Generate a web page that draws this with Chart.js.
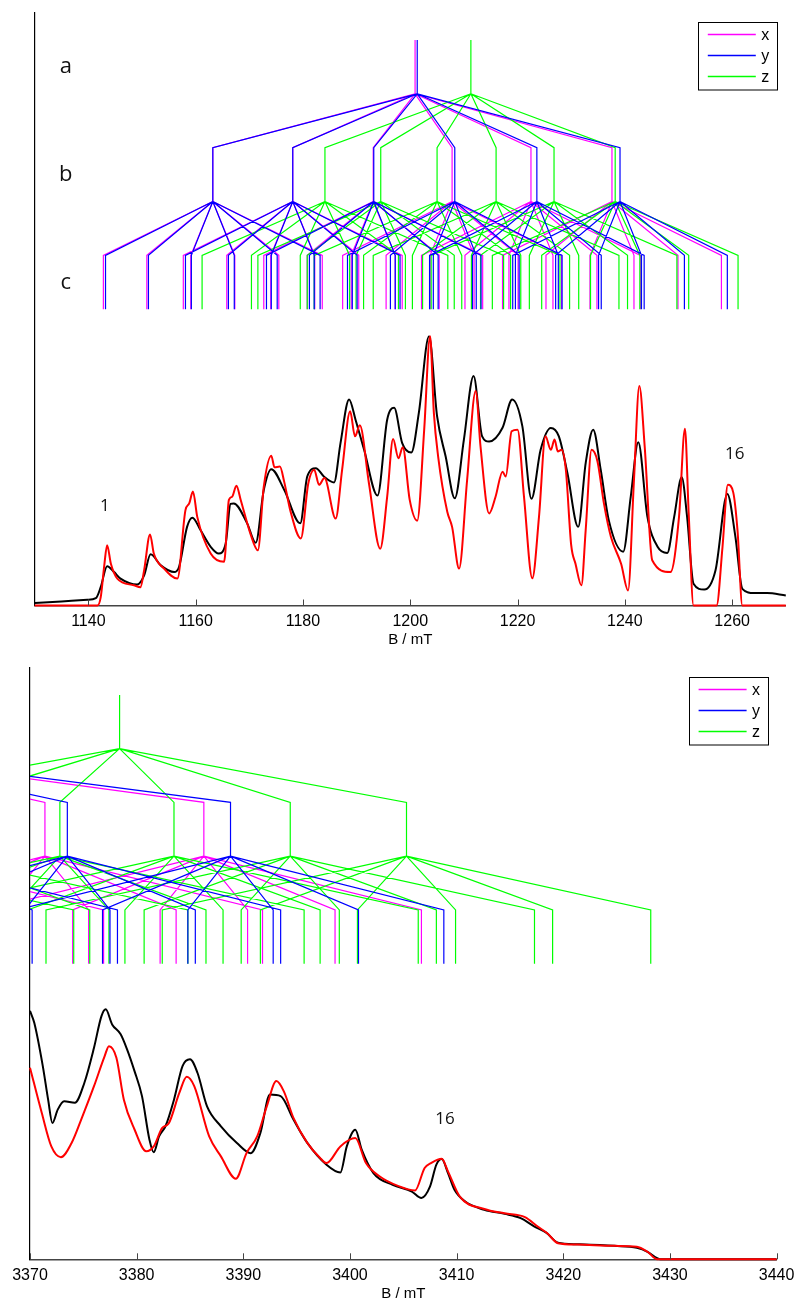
<!DOCTYPE html>
<html>
<head>
<meta charset="utf-8">
<title>B / mT</title>
<script src="https://cdn.jsdelivr.net/npm/chart.js@4.4.1/dist/chart.umd.min.js"></script>
<style>
  html, body { margin: 0; padding: 0; background: #fff; }
  .panel { position: relative; width: 801px; height: 652px; }
</style>
</head>
<body>
<div class="panel"><canvas id="lowField"></canvas></div>
<div class="panel"><canvas id="highField"></canvas></div>
<script>
// stick diagram heights: a (top of root), a/b, b, b/c, c, bottom of c
const treeLevels = [2.1, 1.9, 1.7, 1.5, 1.3, 1.1];

// second splitting (mT) around every first-level line
const splitX = [-20.4, -12.3, -4.1, 4.1, 12.3, 20.4];
const splitY = [-20.0, -12.0, -4.0, 4.0, 12.0, 20.0];
const splitZ = [-22.9, -13.7, -4.6, 4.6, 13.7, 22.9];

// ---- low field panel, 1130 - 1270 mT ----
const lowTicks = [1140, 1160, 1180, 1200, 1220, 1240, 1260];
const lowRoots = [1200.9, 1201.3, 1211.3]; // x, y, z
const lowLinesX = [1163.2, 1178.1, 1193.1, 1207.8, 1222.5, 1237.6];
const lowLinesY = [1163.2, 1178.1, 1193.2, 1208.3, 1223.6, 1239.1];
const lowLinesZ = [1184.1, 1194.5, 1205.0, 1216.0, 1226.8, 1238.2];

const lowExp = [
  [1130, 0.009], [1135, 0.015], [1139.8, 0.021], [1141.4, 0.027], [1142.3, 0.068],
  [1143.5, 0.146], [1144.8, 0.124], [1146.0, 0.100], [1149.1, 0.078], [1150.4, 0.112],
  [1151.6, 0.190], [1153.5, 0.149], [1156.0, 0.124], [1156.9, 0.143], [1158.4, 0.292],
  [1159.4, 0.326], [1160.9, 0.280], [1162.8, 0.218], [1164.3, 0.193], [1165.6, 0.230],
  [1166.5, 0.377], [1167.1, 0.379], [1169.6, 0.305], [1171.2, 0.233], [1172.7, 0.429],
  [1174.1, 0.506], [1176.5, 0.430], [1179.5, 0.305], [1180.8, 0.479], [1182.4, 0.510],
  [1183.9, 0.479], [1185.8, 0.457], [1187.0, 0.603], [1188.6, 0.765], [1189.8, 0.690],
  [1191.4, 0.578], [1193.9, 0.408], [1195.7, 0.690], [1197.0, 0.734], [1198.5, 0.603],
  [1200.2, 0.568], [1201.6, 0.715], [1203.5, 1.000], [1205.0, 0.703], [1206.6, 0.553],
  [1208.3, 0.398], [1210.0, 0.616], [1211.8, 0.852], [1213.4, 0.628], [1214.7, 0.609],
  [1217.2, 0.660], [1219.0, 0.765], [1220.9, 0.665], [1222.6, 0.396], [1224.3, 0.578],
  [1226.2, 0.659], [1227.7, 0.628], [1229.3, 0.491], [1231.3, 0.292], [1232.7, 0.529],
  [1234.1, 0.653], [1235.5, 0.504], [1237.0, 0.317], [1239.7, 0.200], [1241.1, 0.404],
  [1242.5, 0.606], [1244.2, 0.330], [1246.1, 0.218], [1247.9, 0.195], [1249.2, 0.330],
  [1250.6, 0.476], [1251.6, 0.330], [1252.8, 0.081], [1254.8, 0.059], [1256.9, 0.131],
  [1259.1, 0.414], [1260.6, 0.256], [1261.9, 0.062], [1264.1, 0.046], [1266.5, 0.046],
  [1270, 0.037]
];

const lowSim = [
  [1130, 0], [1141.7, 0], [1142.3, 0.030], [1143.0, 0.155], [1143.5, 0.224],
  [1144.2, 0.155], [1145.4, 0.100], [1148.5, 0.075], [1149.7, 0.068], [1150.4, 0.131],
  [1151.5, 0.264], [1152.2, 0.193], [1154.1, 0.137], [1156.6, 0.100], [1158.1, 0.354],
  [1158.8, 0.379], [1159.5, 0.423], [1160.3, 0.329], [1162.8, 0.193], [1165.3, 0.162],
  [1166.2, 0.392], [1166.8, 0.404], [1167.6, 0.445], [1168.4, 0.392], [1170.2, 0.267],
  [1171.6, 0.205], [1172.7, 0.441], [1174.1, 0.556], [1174.7, 0.513], [1175.7, 0.516],
  [1176.5, 0.460], [1177.7, 0.348], [1179.6, 0.249], [1181.0, 0.454], [1182.1, 0.504],
  [1183.0, 0.448], [1184.0, 0.473], [1186.1, 0.323], [1187.3, 0.504], [1188.8, 0.721],
  [1189.7, 0.628], [1190.6, 0.669], [1192.3, 0.454], [1194.4, 0.211], [1195.7, 0.404],
  [1196.8, 0.618], [1197.8, 0.547], [1198.6, 0.588], [1199.9, 0.392], [1201.3, 0.315],
  [1202.6, 0.653], [1203.7, 1.000], [1204.4, 0.715], [1205.2, 0.553], [1206.9, 0.348],
  [1207.8, 0.292], [1209.1, 0.137], [1210.6, 0.466], [1212.2, 0.796], [1213.1, 0.590],
  [1214.7, 0.342], [1215.9, 0.404], [1217.2, 0.497], [1217.8, 0.479], [1218.9, 0.647],
  [1220.0, 0.653], [1221.2, 0.404], [1222.75, 0.101], [1224.0, 0.330], [1225.2, 0.628],
  [1226.2, 0.578], [1226.9, 0.616], [1227.5, 0.572], [1228.2, 0.578], [1229.0, 0.504],
  [1230.0, 0.224], [1230.8, 0.155], [1231.9, 0.075], [1232.7, 0.280], [1233.8, 0.578],
  [1234.9, 0.535], [1236.1, 0.379], [1237.4, 0.255], [1239.3, 0.155], [1240.6, 0.056],
  [1241.7, 0.466], [1242.7, 0.815], [1243.7, 0.590], [1245.1, 0.168], [1248.5, 0.124],
  [1250.1, 0.330], [1251.2, 0.656], [1251.9, 0.342], [1252.8, 0], [1257.1, 0],
  [1258.2, 0.217], [1259.2, 0.448], [1260.2, 0.420], [1261.0, 0.279], [1261.9, 0],
  [1270, 0]
];

// ---- high field panel, 3370 - 3440 mT ----
const highTicks = [3370, 3380, 3390, 3400, 3410, 3420, 3430, 3440];
const highRoots = [3348.9, 3350.0, 3378.4]; // x, y, z
const highLinesX = [3311.8, 3326.7, 3341.6, 3356.5, 3371.4, 3386.3];
const highLinesY = [3312.3, 3327.6, 3342.9, 3358.2, 3373.5, 3388.8];
const highLinesZ = [3351.2, 3361.9, 3372.8, 3383.5, 3394.4, 3405.3];

const highExp = [
  [3370.0, 0.924], [3370.4, 0.880], [3371.2, 0.719], [3371.7, 0.594], [3372.1, 0.507],
  [3372.6, 0.557], [3373.2, 0.588], [3374.2, 0.582], [3375.1, 0.657], [3376.0, 0.787],
  [3376.7, 0.905], [3377.1, 0.930], [3377.7, 0.874], [3378.5, 0.837], [3379.1, 0.781],
  [3379.8, 0.700], [3380.5, 0.607], [3381.2, 0.445], [3381.6, 0.398], [3382.1, 0.457],
  [3382.7, 0.495], [3383.5, 0.594], [3384.3, 0.719], [3385.0, 0.744], [3385.7, 0.694],
  [3386.6, 0.569], [3387.9, 0.495], [3389.4, 0.433], [3390.7, 0.395], [3391.6, 0.470],
  [3392.5, 0.613], [3393.5, 0.607], [3394.7, 0.520], [3396.0, 0.433], [3397.8, 0.352],
  [3399.1, 0.323], [3399.7, 0.420], [3400.5, 0.482], [3401.1, 0.408], [3402.2, 0.321],
  [3404.0, 0.277], [3405.8, 0.252], [3406.7, 0.228], [3407.5, 0.270], [3408.1, 0.352],
  [3408.6, 0.373], [3409.2, 0.320], [3409.8, 0.259], [3410.8, 0.215], [3412.6, 0.184],
  [3414.5, 0.169], [3416.0, 0.153], [3417.3, 0.122], [3418.4, 0.099], [3419.5, 0.062],
  [3421.3, 0.056], [3424.8, 0.050], [3426.9, 0.043], [3427.9, 0.028], [3428.8, 0.004],
  [3429.1, 0], [3440, 0]
];

const highSim = [
  [3370.0, 0.713], [3371.1, 0.545], [3372.0, 0.420], [3372.9, 0.380], [3373.9, 0.433],
  [3374.8, 0.520], [3376.0, 0.644], [3377.0, 0.756], [3377.4, 0.793], [3378.1, 0.750],
  [3378.8, 0.594], [3379.8, 0.483], [3380.9, 0.402], [3381.6, 0.420], [3382.4, 0.489],
  [3383.0, 0.505], [3384.0, 0.619], [3384.7, 0.679], [3385.4, 0.644], [3386.8, 0.457],
  [3387.9, 0.383], [3389.3, 0.300], [3390.3, 0.395], [3391.3, 0.457], [3392.2, 0.569],
  [3393.1, 0.663], [3393.8, 0.625], [3394.7, 0.526], [3396.0, 0.433], [3397.2, 0.377],
  [3397.8, 0.358], [3399.1, 0.420], [3400.5, 0.451], [3401.5, 0.358], [3402.8, 0.308],
  [3404.5, 0.273], [3406.1, 0.256], [3407.0, 0.340], [3407.6, 0.358], [3408.6, 0.374],
  [3409.2, 0.326], [3410.3, 0.233], [3412.6, 0.187], [3414.5, 0.171], [3416.4, 0.157],
  [3417.6, 0.122], [3418.5, 0.097], [3419.5, 0.060], [3421.3, 0.055], [3424.8, 0.050],
  [3426.9, 0.047], [3427.9, 0.028], [3428.8, 0], [3440, 0]
];

const stickColors = { x: '#ff00ff', y: '#0000ff', z: '#00ff00' };
const textFont = '"Open Sans", "Noto Sans", sans-serif';
const axisFont = '"Liberation Sans", Arial, Helvetica, sans-serif';

// one polyline per branch, broken by null points
function treePoints(root, lines, split) {
  const [a0, a1, b0, b1, c0, c1] = treeLevels;
  const pts = [{x: root, y: a0}, {x: root, y: a1}, {x: root, y: null}];
  lines.forEach(b => {
    pts.push({x: root, y: a1}, {x: b, y: b0}, {x: b, y: b1}, {x: b, y: null});
    split.forEach(s => {
      pts.push({x: b, y: b1}, {x: b + s, y: c0}, {x: b + s, y: c1}, {x: b + s, y: null});
    });
  });
  return pts;
}

function stickSet(label, root, lines, split) {
  return {
    label: label,
    data: treePoints(root, lines, split),
    borderColor: stickColors[label],
    borderWidth: 1.2,
    tension: 0,
    spanGaps: false,
    clip: 0
  };
}

function traceSet(label, data, color) {
  return {
    label: label,
    data: data,
    borderColor: color,
    borderWidth: 2,
    cubicInterpolationMode: 'monotone',
    clip: 3
  };
}

// small upward tick marks on the field axis
const inwardTicks = {
  id: 'inwardTicks',
  afterDatasetsDraw(chart) {
    const {ctx, chartArea, scales: {x}} = chart;
    ctx.save();
    ctx.strokeStyle = '#444';
    ctx.lineWidth = 1;
    x.ticks.forEach(t => {
      const px = Math.round(x.getPixelForValue(t.value)) + 0.5;
      ctx.beginPath();
      ctx.moveTo(px, chartArea.bottom);
      ctx.lineTo(px, chartArea.bottom - 6);
      ctx.stroke();
    });
    ctx.restore();
  }
};

// text labels placed in data coordinates
const notes = {
  id: 'notes',
  afterDatasetsDraw(chart, args, opts) {
    const {ctx, scales: {x, y}} = chart;
    ctx.save();
    ctx.fillStyle = '#111';
    ctx.textAlign = 'center';
    ctx.textBaseline = 'middle';
    (opts.items || []).forEach(n => {
      ctx.font = n.size + 'px ' + textFont;
      ctx.fillText(n.text, x.getPixelForValue(n.x), y.getPixelForValue(n.y));
    });
    ctx.restore();
  }
};

// framed legend in the upper right corner for the stick diagrams
const boxLegend = {
  id: 'boxLegend',
  afterDraw(chart) {
    const {ctx, chartArea} = chart;
    const w = 79, h = 67.5;
    const left = chartArea.right - 8.5 - w;
    const top = chartArea.top + 8.5;
    ctx.save();
    ctx.fillStyle = '#fff';
    ctx.fillRect(left, top, w, h);
    ctx.strokeStyle = '#000';
    ctx.lineWidth = 1;
    ctx.strokeRect(Math.round(left) + 0.5, Math.round(top) + 0.5, w, h);
    ctx.font = '16px ' + axisFont;
    ctx.textBaseline = 'middle';
    ['x', 'y', 'z'].forEach((lab, i) => {
      const ds = chart.data.datasets.find(d => d.label === lab);
      const ry = Math.round(top + 12.3 + i * 21) + 0.5;
      ctx.strokeStyle = ds.borderColor;
      ctx.lineWidth = 1.5;
      ctx.beginPath();
      ctx.moveTo(left + 9.5, ry);
      ctx.lineTo(left + 57.5, ry);
      ctx.stroke();
      ctx.fillStyle = '#000';
      ctx.fillText(lab, left + 63, ry + 1);
    });
    ctx.restore();
  }
};

function makePanel(id, cfg) {
  return new Chart(document.getElementById(id), {
    type: 'line',
    data: {
      datasets: [
        traceSet('sim', cfg.sim, '#ff0000'),
        traceSet('exp', cfg.exp, '#000000'),
        stickSet('y', cfg.roots[1], cfg.linesY, splitY),
        stickSet('z', cfg.roots[2], cfg.linesZ, splitZ),
        stickSet('x', cfg.roots[0], cfg.linesX, splitX)
      ]
    },
    options: {
      responsive: true,
      maintainAspectRatio: false,
      animation: false,
      events: [],
      layout: { padding: cfg.padding },
      elements: { point: { radius: 0 } },
      scales: {
        x: {
          type: 'linear',
          min: cfg.min,
          max: cfg.max,
          afterBuildTicks: s => { s.ticks = cfg.ticks.map(v => ({ value: v })); },
          grid: { display: false, drawTicks: false },
          border: { display: true, color: '#444', width: 1.5 },
          ticks: {
            padding: 6.6,
            maxRotation: 0,
            color: '#000',
            font: { family: axisFont, size: 16 },
            callback: v => String(v)
          },
          title: {
            display: true,
            text: 'B / mT',
            color: '#000',
            font: { family: axisFont, size: 15 },
            // the scale reserves the tick padding twice; take one back here
            padding: { top: -6.6, bottom: 0 }
          }
        },
        y: {
          min: 0,
          max: 2.2,
          grid: { display: false, drawTicks: false },
          ticks: { display: false },
          border: { display: true, color: '#000', width: 1.2 }
        }
      },
      plugins: {
        legend: { display: false },
        tooltip: { enabled: false },
        notes: { items: cfg.notes }
      }
    },
    plugins: [inwardTicks, notes, boxLegend]
  });
}

makePanel('lowField', {
  min: 1130, max: 1270, ticks: lowTicks,
  roots: lowRoots, linesX: lowLinesX, linesY: lowLinesY, linesZ: lowLinesZ,
  exp: lowExp, sim: lowSim,
  padding: { top: 13, left: 34.7, right: 15.2, bottom: 2.7 },
  notes: [
    { text: 'a', x: 1135.8, y: 2.0, size: 22 },
    { text: 'b', x: 1135.8, y: 1.6, size: 22 },
    { text: 'c', x: 1135.8, y: 1.2, size: 22 },
    { text: '1', x: 1143.1, y: 0.37, size: 17 },
    { text: '16', x: 1260.5, y: 0.563, size: 17 }
  ]
});

makePanel('highField', {
  min: 3370, max: 3440, ticks: highTicks,
  roots: highRoots, linesX: highLinesX, linesY: highLinesY, linesZ: highLinesZ,
  exp: highExp, sim: highSim,
  padding: { top: 16, left: 30, right: 21, bottom: 0.9 },
  notes: [
    { text: '16', x: 3408.9, y: 0.522, size: 17 }
  ]
});
</script>
</body>
</html>
